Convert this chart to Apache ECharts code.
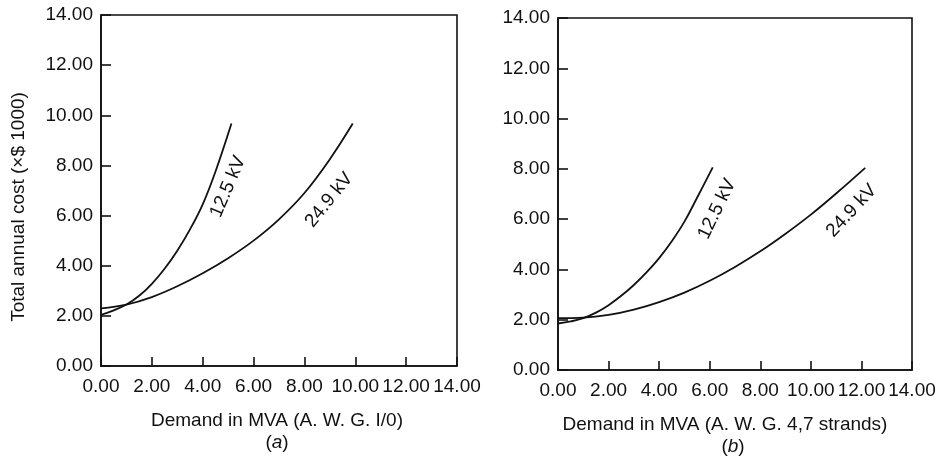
<!DOCTYPE html>
<html>
<head>
<meta charset="utf-8">
<script src="https://cdn.jsdelivr.net/npm/echarts@6/dist/echarts.min.js"></script>
<style>html,body{margin:0;padding:0;background:#fff}#c{width:941px;height:469px}</style>
</head>
<body>
<div id="c"></div>
<script>
// ---- data ----
const panelCaptions = ['a', 'b'];
const xAxisTitles = ['Demand in MVA (A. W. G. I/0)', 'Demand in MVA (A. W. G. 4,7 strands)'];
const yAxisTitle = 'Total annual cost (\u00d7$ 1000)';
const seriesNames = ['12.5 kV', '24.9 kV'];

// Panel (a)
const a125X = [0, 0.5, 1, 1.5, 2, 2.5, 3, 3.5, 4, 4.5, 5.13];
const a125Y = [2.04, 2.22, 2.45, 2.8, 3.28, 3.88, 4.6, 5.45, 6.45, 7.75, 9.67];
const a249X = [0, 1, 2, 3, 4, 5, 6, 7, 8, 9, 9.9];
const a249Y = [2.30, 2.45, 2.75, 3.18, 3.7, 4.3, 5.0, 5.85, 6.9, 8.25, 9.67];

// Panel (b)
const b125X = [0, 0.5, 1, 1.5, 2, 2.5, 3, 3.5, 4, 4.5, 5, 5.5, 6.12];
const b125Y = [1.85, 1.93, 2.06, 2.28, 2.58, 2.95, 3.38, 3.88, 4.45, 5.12, 5.9, 6.85, 8.06];
const b249X = [0, 1, 2, 3, 4, 5, 6, 7, 8, 9, 10, 11, 12.15];
const b249Y = [2.06, 2.08, 2.19, 2.4, 2.7, 3.08, 3.55, 4.1, 4.72, 5.42, 6.18, 7.02, 8.04];

const axisMin = 0, axisMax = 14, axisStep = 2;

// ---- chart ----
const FONT = '"Liberation Sans", Arial, Helvetica, sans-serif';
const BLACK = '#111';
const zip = (xs, ys) => xs.map((x, i) => [x, ys[i]]);

function xAx(idx, name, pad) {
  return {
    type: 'value', gridIndex: idx, min: axisMin, max: axisMax, interval: axisStep,
    axisLine: { show: true, onZero: false, lineStyle: { color: BLACK, width: 1.6 } },
    axisTick: { show: true, inside: true, length: 9, lineStyle: { color: BLACK, width: 1.6 } },
    axisLabel: { formatter: v => v.toFixed(2), color: BLACK, fontSize: 19, fontFamily: FONT, margin: 11 },
    splitLine: { show: false },
    name: name, nameLocation: 'middle', nameGap: 45,
    nameTextStyle: { color: BLACK, fontSize: 19, fontFamily: FONT, padding: pad }
  };
}
function yAx(idx, name) {
  return {
    type: 'value', gridIndex: idx, min: axisMin, max: axisMax, interval: axisStep,
    axisLine: { show: true, onZero: false, lineStyle: { color: BLACK, width: 1.6 } },
    axisTick: { show: true, inside: true, length: 10, lineStyle: { color: BLACK, width: 1.6 } },
    axisLabel: { formatter: v => v.toFixed(2), color: BLACK, fontSize: 19, fontFamily: FONT, margin: 8 },
    splitLine: { show: false },
    name: name, nameLocation: 'middle', nameGap: 73,
    nameTextStyle: { color: BLACK, fontSize: 19, fontFamily: FONT, padding: [0, 33, 0, 0] }
  };
}
function curve(idx, name, xs, ys, lx, ly, rot) {
  return {
    type: 'line', name: name, xAxisIndex: idx, yAxisIndex: idx,
    data: zip(xs, ys), smooth: 0.4, symbol: 'none', silent: true,
    lineStyle: { color: BLACK, width: 1.8 },
    markPoint: {
      symbol: 'circle', symbolSize: 0, silent: true,
      data: [{ coord: [lx, ly], name: name }],
      label: { show: true, position: 'inside', formatter: '{b}', rotate: rot,
               color: BLACK, fontSize: 19, fontFamily: FONT }
    }
  };
}
const capStyle = {
  fontSize: 19, fontWeight: 'normal', color: BLACK, fontFamily: FONT,
  rich: { i: { fontStyle: 'italic', fontSize: 19, color: BLACK, fontFamily: FONT } }
};

const option = {
  backgroundColor: '#fff',
  animation: false,
  title: [
    { text: '({i|' + panelCaptions[0] + '})', left: 277, top: 433, textAlign: 'center', padding: 0, textStyle: capStyle },
    { text: '({i|' + panelCaptions[1] + '})', left: 733, top: 437, textAlign: 'center', padding: 0, textStyle: capStyle }
  ],
  grid: [
    { left: 101, top: 15, width: 356, height: 351, show: true, borderColor: BLACK, borderWidth: 1.6, backgroundColor: 'transparent' },
    { left: 558, top: 18, width: 354, height: 352, show: true, borderColor: BLACK, borderWidth: 1.6, backgroundColor: 'transparent' }
  ],
  xAxis: [xAx(0, xAxisTitles[0], [0, 4, 0, 0]), xAx(1, xAxisTitles[1], [0, 20, 0, 0])],
  yAxis: [yAx(0, yAxisTitle), yAx(1, '')],
  series: [
    curve(0, seriesNames[0], a125X, a125Y, 5.0, 7.15, 67),
    curve(0, seriesNames[1], a249X, a249Y, 8.97, 6.62, 51),
    curve(1, seriesNames[0], b125X, b125Y, 6.29, 6.4, 64),
    curve(1, seriesNames[1], b249X, b249Y, 11.61, 6.33, 47)
  ]
};
const chart = echarts.init(document.getElementById('c'), null, { renderer: 'canvas' });
chart.setOption(option);
</script>
</body>
</html>
